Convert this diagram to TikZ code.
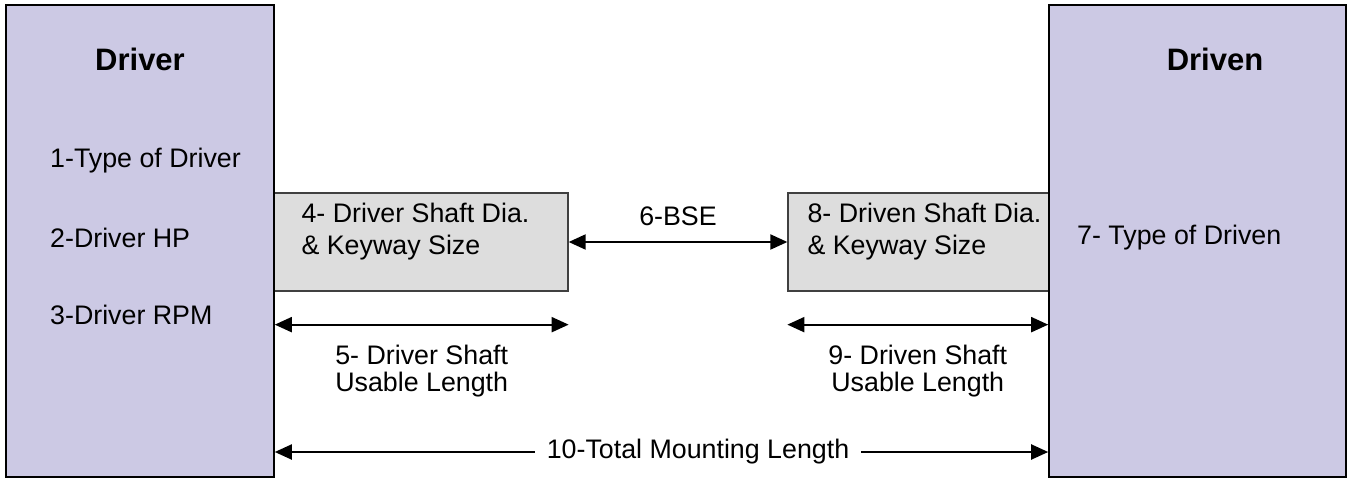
\documentclass[tikz,border=0pt]{standalone}
\usepackage{fontspec}
\setmainfont{Liberation Sans}
\usetikzlibrary{arrows.meta,positioning}
\definecolor{lavender}{RGB}{204,201,228}
\definecolor{shaftgray}{RGB}{221,221,221}
\tikzset{
  unit/.style={draw=black, line width=1.6pt, fill=lavender, inner sep=0pt},
  shaftbox/.style={draw=black!75, line width=1.3pt, fill=shaftgray, inner sep=0pt},
  txt/.style={font=\fontsize{26.8}{32}\selectfont, inner sep=0pt},
  ttl/.style={font=\fontsize{31}{34}\selectfont\bfseries, inner sep=0pt},
  dim/.style={draw, line width=2pt, {Triangle[length=17pt,width=15pt]}-{Triangle[length=17pt,width=15pt]}},
  halfdim/.style={draw, line width=2pt, -{Triangle[length=17pt,width=15pt]}}
}
\begin{document}
\begin{tikzpicture}[x=1pt,y=-1pt]
  \useasboundingbox (0,0) rectangle (1352,478);
  % shaft boxes
  \node[shaftbox, minimum width=294pt, minimum height=98pt] (lbox) at (421,242) {};
  \node[shaftbox, minimum width=261pt, minimum height=98pt] (rbox) at (918.5,242) {};
  \node[txt, anchor=north west, align=left] (lboxtxt) at ([shift={(28,11)}]lbox.north west)
    {4- Driver Shaft Dia.\\\& Keyway Size};
  \node[txt, anchor=north west, align=left] (rboxtxt) at ([shift={(20,11)}]rbox.north west)
    {8- Driven Shaft Dia.\\\& Keyway Size};
  % driver / driven
  \node[unit, minimum width=268pt, minimum height=472pt] (driver) at (140,241) {};
  \node[unit, minimum width=297pt, minimum height=472pt] (driven) at (1197.5,241) {};
  \node[ttl, anchor=base] (drivertitle) at (140,71) {Driver};
  \node[ttl, anchor=base] (driventitle) at (1215,71) {Driven};
  \node[txt, anchor=base west] (t1) at (50,168) {1-Type of Driver};
  \node[txt, anchor=base west] (t2) at (50,248) {2-Driver HP};
  \node[txt, anchor=base west] (t3) at (50,325) {3-Driver RPM};
  \node[txt, anchor=base west] (t7) at (1077,245) {7- Type of Driven};
  % dimensions
  \draw[dim] (lbox.east) -- node[txt, above=15pt] (bse) {6-BSE} (rbox.west);
  \path (lbox.south) ++(0,33) coordinate (lmid);
  \path (rbox.south) ++(0,33) coordinate (rmid);
  \draw[dim] (driver.east |- lmid) -- node[txt, below=19pt, align=center, font=\fontsize{26.8}{27}\selectfont] (lusable)
    {5- Driver Shaft\\Usable Length} (lbox.east |- lmid);
  \draw[dim] (rbox.west |- rmid) -- node[txt, below=19pt, align=center, font=\fontsize{26.8}{27}\selectfont] (rusable)
    {9- Driven Shaft\\Usable Length} (driven.west |- rmid);
  \node[txt, inner xsep=12pt] (total) at (698,452) {10-Total Mounting Length};
  \draw[halfdim] (total.west) -- (driver.east |- total.west);
  \draw[halfdim] (total.east) -- (driven.west |- total.east);
\end{tikzpicture}
\end{document}
